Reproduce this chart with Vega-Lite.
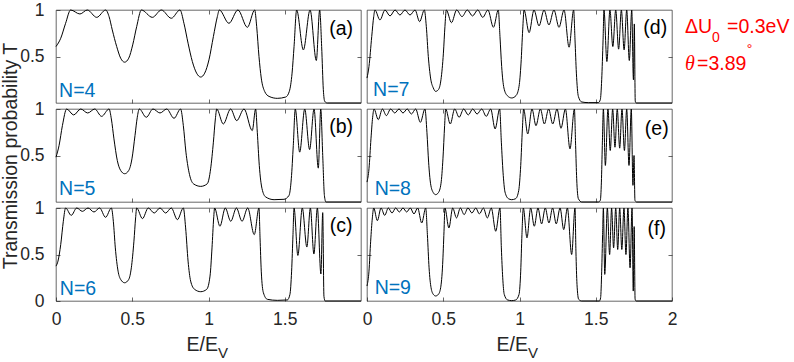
{
  "$schema": "https://vega.github.io/schema/vega-lite/v6.json",
  "background": "white",
  "padding": {"left": 0, "top": 0, "right": 2, "bottom": 0},
  "data": {"values": [
    {"p":"a","E":0,"T":0.607},{"p":"a","E":0.031,"T":0.696},{"p":"a","E":0.063,"T":0.857},{"p":"a","E":0.096,"T":1},{"p":"a","E":0.157,"T":0.957},{"p":"a","E":0.205,"T":1},{"p":"a","E":0.267,"T":0.921},{"p":"a","E":0.326,"T":1},{"p":"a","E":0.348,"T":0.929},{"p":"a","E":0.369,"T":0.786},{"p":"a","E":0.398,"T":0.607},{"p":"a","E":0.424,"T":0.482},{"p":"a","E":0.45,"T":0.439},{"p":"a","E":0.477,"T":0.482},{"p":"a","E":0.503,"T":0.625},{"p":"a","E":0.529,"T":0.821},{"p":"a","E":0.56,"T":1},{"p":"a","E":0.632,"T":0.921},{"p":"a","E":0.691,"T":1},{"p":"a","E":0.756,"T":0.911},{"p":"a","E":0.813,"T":1},{"p":"a","E":0.839,"T":0.857},{"p":"a","E":0.866,"T":0.643},{"p":"a","E":0.894,"T":0.446},{"p":"a","E":0.922,"T":0.321},{"p":"a","E":0.949,"T":0.279},{"p":"a","E":0.975,"T":0.321},{"p":"a","E":1.003,"T":0.464},{"p":"a","E":1.032,"T":0.714},{"p":"a","E":1.058,"T":0.929},{"p":"a","E":1.071,"T":1},{"p":"a","E":1.134,"T":0.857},{"p":"a","E":1.193,"T":1},{"p":"a","E":1.255,"T":0.814},{"p":"a","E":1.303,"T":1},{"p":"a","E":1.316,"T":0.821},{"p":"a","E":1.331,"T":0.5},{"p":"a","E":1.346,"T":0.268},{"p":"a","E":1.368,"T":0.125},{"p":"a","E":1.397,"T":0.071},{"p":"a","E":1.451,"T":0.05},{"p":"a","E":1.506,"T":0.064},{"p":"a","E":1.53,"T":0.125},{"p":"a","E":1.548,"T":0.321},{"p":"a","E":1.561,"T":0.607},{"p":"a","E":1.578,"T":1},{"p":"a","E":1.622,"T":0.571},{"p":"a","E":1.666,"T":1},{"p":"a","E":1.707,"T":0.457},{"p":"a","E":1.729,"T":1},{"p":"a","E":1.742,"T":0.607},{"p":"a","E":1.753,"T":0.143},{"p":"a","E":1.762,"T":0.018},{"p":"a","E":1.779,"T":0},{"p":"a","E":2,"T":0},
    {"p":"b","E":0,"T":0.482},{"p":"b","E":0.02,"T":0.607},{"p":"b","E":0.042,"T":0.821},{"p":"b","E":0.07,"T":1},{"p":"b","E":0.116,"T":0.936},{"p":"b","E":0.162,"T":1},{"p":"b","E":0.208,"T":0.957},{"p":"b","E":0.254,"T":1},{"p":"b","E":0.299,"T":0.921},{"p":"b","E":0.348,"T":1},{"p":"b","E":0.363,"T":0.893},{"p":"b","E":0.38,"T":0.679},{"p":"b","E":0.402,"T":0.446},{"p":"b","E":0.424,"T":0.339},{"p":"b","E":0.45,"T":0.304},{"p":"b","E":0.477,"T":0.339},{"p":"b","E":0.498,"T":0.464},{"p":"b","E":0.518,"T":0.714},{"p":"b","E":0.533,"T":0.911},{"p":"b","E":0.546,"T":1},{"p":"b","E":0.592,"T":0.911},{"p":"b","E":0.636,"T":1},{"p":"b","E":0.682,"T":0.957},{"p":"b","E":0.726,"T":1},{"p":"b","E":0.774,"T":0.9},{"p":"b","E":0.817,"T":1},{"p":"b","E":0.835,"T":0.821},{"p":"b","E":0.852,"T":0.536},{"p":"b","E":0.872,"T":0.321},{"p":"b","E":0.901,"T":0.196},{"p":"b","E":0.949,"T":0.168},{"p":"b","E":0.992,"T":0.196},{"p":"b","E":1.014,"T":0.357},{"p":"b","E":1.032,"T":0.643},{"p":"b","E":1.045,"T":0.893},{"p":"b","E":1.054,"T":1},{"p":"b","E":1.097,"T":0.839},{"p":"b","E":1.145,"T":1},{"p":"b","E":1.185,"T":0.875},{"p":"b","E":1.233,"T":1},{"p":"b","E":1.287,"T":0.768},{"p":"b","E":1.309,"T":1},{"p":"b","E":1.32,"T":0.75},{"p":"b","E":1.333,"T":0.393},{"p":"b","E":1.351,"T":0.143},{"p":"b","E":1.375,"T":0.054},{"p":"b","E":1.43,"T":0.025},{"p":"b","E":1.495,"T":0.029},{"p":"b","E":1.528,"T":0.071},{"p":"b","E":1.543,"T":0.25},{"p":"b","E":1.556,"T":0.607},{"p":"b","E":1.569,"T":1},{"p":"b","E":1.598,"T":0.536},{"p":"b","E":1.631,"T":1},{"p":"b","E":1.663,"T":0.564},{"p":"b","E":1.692,"T":1},{"p":"b","E":1.72,"T":0.364},{"p":"b","E":1.736,"T":1},{"p":"b","E":1.749,"T":0.5},{"p":"b","E":1.76,"T":0.071},{"p":"b","E":1.77,"T":0},{"p":"b","E":2,"T":0},
    {"p":"c","E":0,"T":0.375},{"p":"c","E":0.013,"T":0.429},{"p":"c","E":0.031,"T":0.607},{"p":"c","E":0.048,"T":0.857},{"p":"c","E":0.063,"T":1},{"p":"c","E":0.1,"T":0.921},{"p":"c","E":0.136,"T":1},{"p":"c","E":0.173,"T":0.964},{"p":"c","E":0.21,"T":1},{"p":"c","E":0.249,"T":0.957},{"p":"c","E":0.286,"T":1},{"p":"c","E":0.325,"T":0.9},{"p":"c","E":0.363,"T":1},{"p":"c","E":0.376,"T":0.857},{"p":"c","E":0.389,"T":0.571},{"p":"c","E":0.407,"T":0.321},{"p":"c","E":0.424,"T":0.232},{"p":"c","E":0.45,"T":0.196},{"p":"c","E":0.477,"T":0.232},{"p":"c","E":0.494,"T":0.357},{"p":"c","E":0.511,"T":0.643},{"p":"c","E":0.522,"T":0.893},{"p":"c","E":0.529,"T":1},{"p":"c","E":0.567,"T":0.886},{"p":"c","E":0.605,"T":1},{"p":"c","E":0.644,"T":0.946},{"p":"c","E":0.682,"T":1},{"p":"c","E":0.719,"T":0.946},{"p":"c","E":0.756,"T":1},{"p":"c","E":0.796,"T":0.875},{"p":"c","E":0.835,"T":1},{"p":"c","E":0.85,"T":0.786},{"p":"c","E":0.866,"T":0.429},{"p":"c","E":0.883,"T":0.214},{"p":"c","E":0.909,"T":0.125},{"p":"c","E":0.949,"T":0.1},{"p":"c","E":0.988,"T":0.125},{"p":"c","E":1.01,"T":0.268},{"p":"c","E":1.023,"T":0.571},{"p":"c","E":1.034,"T":0.893},{"p":"c","E":1.04,"T":1},{"p":"c","E":1.075,"T":0.804},{"p":"c","E":1.11,"T":1},{"p":"c","E":1.146,"T":0.857},{"p":"c","E":1.183,"T":1},{"p":"c","E":1.22,"T":0.857},{"p":"c","E":1.257,"T":1},{"p":"c","E":1.3,"T":0.714},{"p":"c","E":1.331,"T":1},{"p":"c","E":1.338,"T":0.679},{"p":"c","E":1.346,"T":0.321},{"p":"c","E":1.36,"T":0.089},{"p":"c","E":1.386,"T":0.018},{"p":"c","E":1.451,"T":0.007},{"p":"c","E":1.517,"T":0.011},{"p":"c","E":1.534,"T":0.071},{"p":"c","E":1.545,"T":0.321},{"p":"c","E":1.554,"T":0.714},{"p":"c","E":1.561,"T":1},{"p":"c","E":1.586,"T":0.49},{"p":"c","E":1.615,"T":1},{"p":"c","E":1.645,"T":0.58},{"p":"c","E":1.668,"T":1},{"p":"c","E":1.691,"T":0.505},{"p":"c","E":1.714,"T":1},{"p":"c","E":1.737,"T":0.29},{"p":"c","E":1.749,"T":0.95},{"p":"c","E":1.757,"T":0.05},{"p":"c","E":1.765,"T":0},{"p":"c","E":2,"T":0},
    {"p":"d","E":0,"T":0.268},{"p":"d","E":0.013,"T":0.393},{"p":"d","E":0.031,"T":0.714},{"p":"d","E":0.044,"T":0.929},{"p":"d","E":0.052,"T":1},{"p":"d","E":0.085,"T":0.893},{"p":"d","E":0.118,"T":1},{"p":"d","E":0.151,"T":0.936},{"p":"d","E":0.184,"T":1},{"p":"d","E":0.216,"T":0.946},{"p":"d","E":0.249,"T":1},{"p":"d","E":0.282,"T":0.946},{"p":"d","E":0.315,"T":1},{"p":"d","E":0.345,"T":0.875},{"p":"d","E":0.376,"T":1},{"p":"d","E":0.389,"T":0.821},{"p":"d","E":0.402,"T":0.5},{"p":"d","E":0.417,"T":0.268},{"p":"d","E":0.435,"T":0.161},{"p":"d","E":0.45,"T":0.125},{"p":"d","E":0.468,"T":0.143},{"p":"d","E":0.485,"T":0.25},{"p":"d","E":0.501,"T":0.536},{"p":"d","E":0.511,"T":0.821},{"p":"d","E":0.52,"T":1},{"p":"d","E":0.554,"T":0.864},{"p":"d","E":0.588,"T":1},{"p":"d","E":0.623,"T":0.929},{"p":"d","E":0.658,"T":1},{"p":"d","E":0.692,"T":0.936},{"p":"d","E":0.726,"T":1},{"p":"d","E":0.759,"T":0.921},{"p":"d","E":0.793,"T":1},{"p":"d","E":0.829,"T":0.814},{"p":"d","E":0.861,"T":1},{"p":"d","E":0.872,"T":0.714},{"p":"d","E":0.883,"T":0.393},{"p":"d","E":0.898,"T":0.161},{"p":"d","E":0.92,"T":0.079},{"p":"d","E":0.949,"T":0.054},{"p":"d","E":0.977,"T":0.079},{"p":"d","E":0.997,"T":0.179},{"p":"d","E":1.01,"T":0.429},{"p":"d","E":1.021,"T":0.786},{"p":"d","E":1.03,"T":1},{"p":"d","E":1.063,"T":0.757},{"p":"d","E":1.095,"T":1},{"p":"d","E":1.128,"T":0.829},{"p":"d","E":1.161,"T":1},{"p":"d","E":1.193,"T":0.839},{"p":"d","E":1.226,"T":1},{"p":"d","E":1.259,"T":0.814},{"p":"d","E":1.292,"T":1},{"p":"d","E":1.325,"T":0.6},{"p":"d","E":1.355,"T":1},{"p":"d","E":1.364,"T":0.679},{"p":"d","E":1.373,"T":0.321},{"p":"d","E":1.386,"T":0.071},{"p":"d","E":1.408,"T":0.011},{"p":"d","E":1.451,"T":0.004},{"p":"d","E":1.517,"T":0.004},{"p":"d","E":1.53,"T":0.036},{"p":"d","E":1.539,"T":0.25},{"p":"d","E":1.548,"T":0.679},{"p":"d","E":1.554,"T":1},{"p":"d","E":1.573,"T":0.446},{"p":"d","E":1.593,"T":1},{"p":"d","E":1.612,"T":0.607},{"p":"d","E":1.631,"T":1},{"p":"d","E":1.65,"T":0.579},{"p":"d","E":1.668,"T":1},{"p":"d","E":1.686,"T":0.571},{"p":"d","E":1.703,"T":1},{"p":"d","E":1.72,"T":0.457},{"p":"d","E":1.736,"T":1},{"p":"d","E":1.747,"T":0.25},{"p":"d","E":1.753,"T":0.85},{"p":"d","E":1.759,"T":0.02},{"p":"d","E":1.766,"T":0},{"p":"d","E":2,"T":0},
    {"p":"e","E":0,"T":0.214},{"p":"e","E":0.013,"T":0.357},{"p":"e","E":0.026,"T":0.679},{"p":"e","E":0.037,"T":0.911},{"p":"e","E":0.046,"T":1},{"p":"e","E":0.074,"T":0.886},{"p":"e","E":0.101,"T":1},{"p":"e","E":0.127,"T":0.929},{"p":"e","E":0.155,"T":1},{"p":"e","E":0.182,"T":0.957},{"p":"e","E":0.21,"T":1},{"p":"e","E":0.236,"T":0.957},{"p":"e","E":0.264,"T":1},{"p":"e","E":0.291,"T":0.946},{"p":"e","E":0.319,"T":1},{"p":"e","E":0.35,"T":0.857},{"p":"e","E":0.38,"T":1},{"p":"e","E":0.393,"T":0.75},{"p":"e","E":0.404,"T":0.429},{"p":"e","E":0.417,"T":0.196},{"p":"e","E":0.435,"T":0.1},{"p":"e","E":0.45,"T":0.079},{"p":"e","E":0.468,"T":0.1},{"p":"e","E":0.485,"T":0.196},{"p":"e","E":0.498,"T":0.464},{"p":"e","E":0.509,"T":0.821},{"p":"e","E":0.516,"T":1},{"p":"e","E":0.546,"T":0.839},{"p":"e","E":0.575,"T":1},{"p":"e","E":0.604,"T":0.911},{"p":"e","E":0.634,"T":1},{"p":"e","E":0.664,"T":0.936},{"p":"e","E":0.693,"T":1},{"p":"e","E":0.722,"T":0.946},{"p":"e","E":0.752,"T":1},{"p":"e","E":0.782,"T":0.921},{"p":"e","E":0.811,"T":1},{"p":"e","E":0.84,"T":0.786},{"p":"e","E":0.87,"T":1},{"p":"e","E":0.881,"T":0.643},{"p":"e","E":0.892,"T":0.321},{"p":"e","E":0.905,"T":0.107},{"p":"e","E":0.927,"T":0.036},{"p":"e","E":0.949,"T":0.025},{"p":"e","E":0.975,"T":0.036},{"p":"e","E":0.995,"T":0.125},{"p":"e","E":1.008,"T":0.393},{"p":"e","E":1.019,"T":0.786},{"p":"e","E":1.027,"T":1},{"p":"e","E":1.054,"T":0.732},{"p":"e","E":1.082,"T":1},{"p":"e","E":1.108,"T":0.821},{"p":"e","E":1.137,"T":1},{"p":"e","E":1.163,"T":0.839},{"p":"e","E":1.191,"T":1},{"p":"e","E":1.218,"T":0.839},{"p":"e","E":1.246,"T":1},{"p":"e","E":1.272,"T":0.793},{"p":"e","E":1.301,"T":1},{"p":"e","E":1.331,"T":0.571},{"p":"e","E":1.36,"T":1},{"p":"e","E":1.368,"T":0.607},{"p":"e","E":1.375,"T":0.25},{"p":"e","E":1.386,"T":0.036},{"p":"e","E":1.408,"T":0},{"p":"e","E":1.517,"T":0},{"p":"e","E":1.53,"T":0.018},{"p":"e","E":1.537,"T":0.214},{"p":"e","E":1.543,"T":0.607},{"p":"e","E":1.55,"T":1},{"p":"e","E":1.563,"T":0.393},{"p":"e","E":1.58,"T":1},{"p":"e","E":1.595,"T":0.554},{"p":"e","E":1.611,"T":1},{"p":"e","E":1.626,"T":0.589},{"p":"e","E":1.641,"T":1},{"p":"e","E":1.657,"T":0.579},{"p":"e","E":1.672,"T":1},{"p":"e","E":1.688,"T":0.554},{"p":"e","E":1.703,"T":1},{"p":"e","E":1.718,"T":0.393},{"p":"e","E":1.733,"T":1},{"p":"e","E":1.744,"T":0.179},{"p":"e","E":1.751,"T":0.5},{"p":"e","E":1.757,"T":0.018},{"p":"e","E":1.768,"T":0},{"p":"e","E":2,"T":0},
    {"p":"f","E":0,"T":0.161},{"p":"f","E":0.013,"T":0.321},{"p":"f","E":0.024,"T":0.643},{"p":"f","E":0.035,"T":0.893},{"p":"f","E":0.044,"T":1},{"p":"f","E":0.068,"T":0.864},{"p":"f","E":0.092,"T":1},{"p":"f","E":0.116,"T":0.921},{"p":"f","E":0.14,"T":1},{"p":"f","E":0.164,"T":0.946},{"p":"f","E":0.188,"T":1},{"p":"f","E":0.212,"T":0.957},{"p":"f","E":0.236,"T":1},{"p":"f","E":0.26,"T":0.957},{"p":"f","E":0.284,"T":1},{"p":"f","E":0.308,"T":0.936},{"p":"f","E":0.332,"T":1},{"p":"f","E":0.359,"T":0.839},{"p":"f","E":0.385,"T":1},{"p":"f","E":0.396,"T":0.714},{"p":"f","E":0.407,"T":0.357},{"p":"f","E":0.42,"T":0.143},{"p":"f","E":0.435,"T":0.071},{"p":"f","E":0.45,"T":0.054},{"p":"f","E":0.468,"T":0.071},{"p":"f","E":0.483,"T":0.143},{"p":"f","E":0.496,"T":0.393},{"p":"f","E":0.505,"T":0.75},{"p":"f","E":0.511,"T":1},{"p":"f","E":0.537,"T":0.786},{"p":"f","E":0.562,"T":1},{"p":"f","E":0.587,"T":0.893},{"p":"f","E":0.612,"T":1},{"p":"f","E":0.637,"T":0.929},{"p":"f","E":0.662,"T":1},{"p":"f","E":0.688,"T":0.946},{"p":"f","E":0.713,"T":1},{"p":"f","E":0.737,"T":0.936},{"p":"f","E":0.763,"T":1},{"p":"f","E":0.789,"T":0.893},{"p":"f","E":0.815,"T":1},{"p":"f","E":0.844,"T":0.75},{"p":"f","E":0.872,"T":1},{"p":"f","E":0.881,"T":0.571},{"p":"f","E":0.89,"T":0.25},{"p":"f","E":0.9,"T":0.071},{"p":"f","E":0.922,"T":0.011},{"p":"f","E":0.949,"T":0.004},{"p":"f","E":0.975,"T":0.011},{"p":"f","E":0.997,"T":0.071},{"p":"f","E":1.008,"T":0.321},{"p":"f","E":1.016,"T":0.714},{"p":"f","E":1.025,"T":1},{"p":"f","E":1.049,"T":0.679},{"p":"f","E":1.073,"T":1},{"p":"f","E":1.097,"T":0.804},{"p":"f","E":1.121,"T":1},{"p":"f","E":1.145,"T":0.829},{"p":"f","E":1.169,"T":1},{"p":"f","E":1.193,"T":0.839},{"p":"f","E":1.217,"T":1},{"p":"f","E":1.241,"T":0.829},{"p":"f","E":1.266,"T":1},{"p":"f","E":1.29,"T":0.768},{"p":"f","E":1.314,"T":1},{"p":"f","E":1.342,"T":0.5},{"p":"f","E":1.364,"T":1},{"p":"f","E":1.37,"T":0.536},{"p":"f","E":1.377,"T":0.179},{"p":"f","E":1.388,"T":0.018},{"p":"f","E":1.408,"T":0},{"p":"f","E":1.524,"T":0},{"p":"f","E":1.532,"T":0.036},{"p":"f","E":1.539,"T":0.321},{"p":"f","E":1.545,"T":0.714},{"p":"f","E":1.55,"T":1},{"p":"f","E":1.559,"T":0.286},{"p":"f","E":1.576,"T":1},{"p":"f","E":1.591,"T":0.5},{"p":"f","E":1.604,"T":1},{"p":"f","E":1.617,"T":0.571},{"p":"f","E":1.631,"T":1},{"p":"f","E":1.644,"T":0.554},{"p":"f","E":1.657,"T":1},{"p":"f","E":1.671,"T":0.554},{"p":"f","E":1.685,"T":1},{"p":"f","E":1.698,"T":0.5},{"p":"f","E":1.711,"T":1},{"p":"f","E":1.725,"T":0.357},{"p":"f","E":1.738,"T":1},{"p":"f","E":1.746,"T":0.107},{"p":"f","E":1.752,"T":0.8},{"p":"f","E":1.758,"T":0.02},{"p":"f","E":1.765,"T":0},{"p":"f","E":2,"T":0}
  ]},
  "columns": 2,
  "spacing": {"row": 6, "column": 6},
  "bounds": "flush",
  "concat": [
    {
      "width": 305, "height": 93,
      "layer": [
        {"transform": [{"filter": "datum.p === 'a'"}], "mark": {"type": "line", "color": "#000000", "strokeWidth": 1, "interpolate": "monotone"},
         "encoding": {"x": {"field": "E", "type": "quantitative", "scale": {"domain": [0, 2]}, "axis": {"labels": false, "title": null, "values": [0.5, 1, 1.5]}},
                      "y": {"field": "T", "type": "quantitative", "scale": {"domain": [0, 1]}, "axis": {"title": null, "values": [0.5, 1]}}}},
        {"transform": [{"filter": "datum.p === 'a'"}], "mark": {"type": "line", "opacity": 0},
         "encoding": {"x": {"field": "E", "type": "quantitative", "axis": {"orient": "top", "labels": false, "title": null, "values": [0.5, 1, 1.5]}},
                      "y": {"field": "T", "type": "quantitative", "axis": {"orient": "right", "labels": false, "title": null, "values": [0.5]}}}},
        {"data": {"values": [{}]}, "mark": {"type": "text", "fontSize": 19.5, "color": "#000000", "align": "center", "baseline": "middle"},
         "encoding": {"x": {"datum": 1.87, "axis": null}, "y": {"datum": 0.8, "axis": null}, "text": {"value": "(a)"}}},
        {"data": {"values": [{}]}, "mark": {"type": "text", "fontSize": 19.5, "color": "#0072BD", "align": "left", "baseline": "middle"},
         "encoding": {"x": {"datum": 0.02, "axis": null}, "y": {"datum": 0.125, "axis": null}, "text": {"value": "N=4"}}}
      ],
      "resolve": {"axis": {"x": "independent", "y": "independent"}}
    },
    {
      "width": 305, "height": 93,
      "layer": [
        {"transform": [{"filter": "datum.p === 'd'"}], "mark": {"type": "line", "color": "#000000", "strokeWidth": 1, "interpolate": "monotone"},
         "encoding": {"x": {"field": "E", "type": "quantitative", "scale": {"domain": [0, 2]}, "axis": {"labels": false, "title": null, "values": [0.5, 1, 1.5]}},
                      "y": {"field": "T", "type": "quantitative", "scale": {"domain": [0, 1]}, "axis": {"labels": false, "title": null, "values": [0.5]}}}},
        {"transform": [{"filter": "datum.p === 'd'"}], "mark": {"type": "line", "opacity": 0},
         "encoding": {"x": {"field": "E", "type": "quantitative", "axis": {"orient": "top", "labels": false, "title": null, "values": [0.5, 1, 1.5]}},
                      "y": {"field": "T", "type": "quantitative", "axis": {"orient": "right", "labels": false, "title": null, "values": [0.5]}}}},
        {"data": {"values": [{}]}, "mark": {"type": "text", "fontSize": 19.5, "color": "#000000", "align": "center", "baseline": "middle"},
         "encoding": {"x": {"datum": 1.89, "axis": null}, "y": {"datum": 0.81, "axis": null}, "text": {"value": "(d)"}}},
        {"data": {"values": [{}]}, "mark": {"type": "text", "fontSize": 19.5, "color": "#0072BD", "align": "left", "baseline": "middle"},
         "encoding": {"x": {"datum": 0.04, "axis": null}, "y": {"datum": 0.14, "axis": null}, "text": {"value": "N=7"}}},
        {"data": {"values": [{}]}, "mark": {"type": "text", "fontSize": 19.5, "color": "#FF0000", "align": "left", "baseline": "middle"},
         "encoding": {"x": {"datum": 2.085, "axis": null}, "y": {"datum": 0.814, "axis": null}, "text": {"value": "ΔU"}}},
        {"data": {"values": [{}]}, "mark": {"type": "text", "fontSize": 14, "color": "#FF0000", "align": "left", "baseline": "middle"},
         "encoding": {"x": {"datum": 2.262, "axis": null}, "y": {"datum": 0.7, "axis": null}, "text": {"value": "0"}}},
        {"data": {"values": [{}]}, "mark": {"type": "text", "fontSize": 19.5, "color": "#FF0000", "align": "left", "baseline": "middle"},
         "encoding": {"x": {"datum": 2.361, "axis": null}, "y": {"datum": 0.814, "axis": null}, "text": {"value": "=0.3eV"}}},
        {"data": {"values": [{}]}, "mark": {"type": "text", "fontSize": 20, "color": "#FF0000", "align": "left", "baseline": "middle", "font": "Liberation Serif", "fontStyle": "italic"},
         "encoding": {"x": {"datum": 2.085, "axis": null}, "y": {"datum": 0.42, "axis": null}, "text": {"value": "θ"}}},
        {"data": {"values": [{}]}, "mark": {"type": "text", "fontSize": 19.5, "color": "#FF0000", "align": "left", "baseline": "middle"},
         "encoding": {"x": {"datum": 2.164, "axis": null}, "y": {"datum": 0.42, "axis": null}, "text": {"value": "=3.89"}}},
        {"data": {"values": [{}]}, "mark": {"type": "text", "fontSize": 14, "color": "#FF0000", "align": "left", "baseline": "middle"},
         "encoding": {"x": {"datum": 2.49, "axis": null}, "y": {"datum": 0.57, "axis": null}, "text": {"value": "°"}}}
      ],
      "resolve": {"axis": {"x": "independent", "y": "independent"}}
    },
    {
      "width": 305, "height": 93,
      "layer": [
        {"transform": [{"filter": "datum.p === 'b'"}], "mark": {"type": "line", "color": "#000000", "strokeWidth": 1, "interpolate": "monotone"},
         "encoding": {"x": {"field": "E", "type": "quantitative", "scale": {"domain": [0, 2]}, "axis": {"labels": false, "title": null, "values": [0.5, 1, 1.5]}},
                      "y": {"field": "T", "type": "quantitative", "scale": {"domain": [0, 1]}, "axis": {"title": "Transmission probability T", "values": [0.5, 1]}}}},
        {"transform": [{"filter": "datum.p === 'b'"}], "mark": {"type": "line", "opacity": 0},
         "encoding": {"x": {"field": "E", "type": "quantitative", "axis": {"orient": "top", "labels": false, "title": null, "values": [0.5, 1, 1.5]}},
                      "y": {"field": "T", "type": "quantitative", "axis": {"orient": "right", "labels": false, "title": null, "values": [0.5]}}}},
        {"data": {"values": [{}]}, "mark": {"type": "text", "fontSize": 19.5, "color": "#000000", "align": "center", "baseline": "middle"},
         "encoding": {"x": {"datum": 1.87, "axis": null}, "y": {"datum": 0.81, "axis": null}, "text": {"value": "(b)"}}},
        {"data": {"values": [{}]}, "mark": {"type": "text", "fontSize": 19.5, "color": "#0072BD", "align": "left", "baseline": "middle"},
         "encoding": {"x": {"datum": 0.02, "axis": null}, "y": {"datum": 0.14, "axis": null}, "text": {"value": "N=5"}}}
      ],
      "resolve": {"axis": {"x": "independent", "y": "independent"}}
    },
    {
      "width": 305, "height": 93,
      "layer": [
        {"transform": [{"filter": "datum.p === 'e'"}], "mark": {"type": "line", "color": "#000000", "strokeWidth": 1, "interpolate": "monotone"},
         "encoding": {"x": {"field": "E", "type": "quantitative", "scale": {"domain": [0, 2]}, "axis": {"labels": false, "title": null, "values": [0.5, 1, 1.5]}},
                      "y": {"field": "T", "type": "quantitative", "scale": {"domain": [0, 1]}, "axis": {"labels": false, "title": null, "values": [0.5]}}}},
        {"transform": [{"filter": "datum.p === 'e'"}], "mark": {"type": "line", "opacity": 0},
         "encoding": {"x": {"field": "E", "type": "quantitative", "axis": {"orient": "top", "labels": false, "title": null, "values": [0.5, 1, 1.5]}},
                      "y": {"field": "T", "type": "quantitative", "axis": {"orient": "right", "labels": false, "title": null, "values": [0.5]}}}},
        {"data": {"values": [{}]}, "mark": {"type": "text", "fontSize": 19.5, "color": "#000000", "align": "center", "baseline": "middle"},
         "encoding": {"x": {"datum": 1.9, "axis": null}, "y": {"datum": 0.78, "axis": null}, "text": {"value": "(e)"}}},
        {"data": {"values": [{}]}, "mark": {"type": "text", "fontSize": 19.5, "color": "#0072BD", "align": "left", "baseline": "middle"},
         "encoding": {"x": {"datum": 0.05, "axis": null}, "y": {"datum": 0.14, "axis": null}, "text": {"value": "N=8"}}}
      ],
      "resolve": {"axis": {"x": "independent", "y": "independent"}}
    },
    {
      "width": 305, "height": 93,
      "layer": [
        {"transform": [{"filter": "datum.p === 'c'"}], "mark": {"type": "line", "color": "#000000", "strokeWidth": 1, "interpolate": "monotone"},
         "encoding": {"x": {"field": "E", "type": "quantitative", "scale": {"domain": [0, 2]}, "axis": {"title": null, "values": [0, 0.5, 1, 1.5]}},
                      "y": {"field": "T", "type": "quantitative", "scale": {"domain": [0, 1]}, "axis": {"title": null, "values": [0, 0.5, 1]}}}},
        {"transform": [{"filter": "datum.p === 'c'"}], "mark": {"type": "line", "opacity": 0},
         "encoding": {"x": {"field": "E", "type": "quantitative", "axis": {"orient": "top", "labels": false, "title": null, "values": [0.5, 1, 1.5]}},
                      "y": {"field": "T", "type": "quantitative", "axis": {"orient": "right", "labels": false, "title": null, "values": [0.5]}}}},
        {"data": {"values": [{}]}, "mark": {"type": "text", "fontSize": 19.5, "color": "#000000", "align": "center", "baseline": "middle"},
         "encoding": {"x": {"datum": 1.87, "axis": null}, "y": {"datum": 0.81, "axis": null}, "text": {"value": "(c)"}}},
        {"data": {"values": [{}]}, "mark": {"type": "text", "fontSize": 19.5, "color": "#0072BD", "align": "left", "baseline": "middle"},
         "encoding": {"x": {"datum": 0.025, "axis": null}, "y": {"datum": 0.125, "axis": null}, "text": {"value": "N=6"}}},
        {"data": {"values": [{}]}, "mark": {"type": "text", "fontSize": 19.5, "color": "#262626", "align": "right", "baseline": "middle"},
         "encoding": {"x": {"datum": 1.062, "axis": null}, "y": {"datum": -0.47, "axis": null}, "text": {"value": "E/E"}}},
        {"data": {"values": [{}]}, "mark": {"type": "text", "fontSize": 15, "color": "#262626", "align": "left", "baseline": "middle"},
         "encoding": {"x": {"datum": 1.062, "axis": null}, "y": {"datum": -0.56, "axis": null}, "text": {"value": "V"}}}
      ],
      "resolve": {"axis": {"x": "independent", "y": "independent"}}
    },
    {
      "width": 305, "height": 93,
      "layer": [
        {"transform": [{"filter": "datum.p === 'f'"}], "mark": {"type": "line", "color": "#000000", "strokeWidth": 1, "interpolate": "monotone"},
         "encoding": {"x": {"field": "E", "type": "quantitative", "scale": {"domain": [0, 2]}, "axis": {"title": null, "values": [0, 0.5, 1, 1.5, 2]}},
                      "y": {"field": "T", "type": "quantitative", "scale": {"domain": [0, 1]}, "axis": {"labels": false, "title": null, "values": [0.5]}}}},
        {"transform": [{"filter": "datum.p === 'f'"}], "mark": {"type": "line", "opacity": 0},
         "encoding": {"x": {"field": "E", "type": "quantitative", "axis": {"orient": "top", "labels": false, "title": null, "values": [0.5, 1, 1.5]}},
                      "y": {"field": "T", "type": "quantitative", "axis": {"orient": "right", "labels": false, "title": null, "values": [0.5]}}}},
        {"data": {"values": [{}]}, "mark": {"type": "text", "fontSize": 19.5, "color": "#000000", "align": "center", "baseline": "middle"},
         "encoding": {"x": {"datum": 1.9, "axis": null}, "y": {"datum": 0.77, "axis": null}, "text": {"value": "(f)"}}},
        {"data": {"values": [{}]}, "mark": {"type": "text", "fontSize": 19.5, "color": "#0072BD", "align": "left", "baseline": "middle"},
         "encoding": {"x": {"datum": 0.05, "axis": null}, "y": {"datum": 0.14, "axis": null}, "text": {"value": "N=9"}}},
        {"data": {"values": [{}]}, "mark": {"type": "text", "fontSize": 19.5, "color": "#262626", "align": "right", "baseline": "middle"},
         "encoding": {"x": {"datum": 1.056, "axis": null}, "y": {"datum": -0.47, "axis": null}, "text": {"value": "E/E"}}},
        {"data": {"values": [{}]}, "mark": {"type": "text", "fontSize": 15, "color": "#262626", "align": "left", "baseline": "middle"},
         "encoding": {"x": {"datum": 1.056, "axis": null}, "y": {"datum": -0.56, "axis": null}, "text": {"value": "V"}}}
      ],
      "resolve": {"axis": {"x": "independent", "y": "independent"}}
    }
  ],
  "config": {
    "view": {"stroke": "#262626", "strokeWidth": 0.7},
    "text": {"font": "Liberation Sans"},
    "axis": {"domain": false, "grid": false, "ticks": true, "tickSize": -4, "tickColor": "#262626", "tickWidth": 0.7, "format": "~g",
             "labelFont": "Liberation Sans", "labelFontSize": 17.5, "labelColor": "#262626", "labelFlush": false,
             "titleFont": "Liberation Sans", "titleFontSize": 19.5, "titleFontWeight": "normal", "titleColor": "#262626", "titlePadding": -1},
    "axisX": {"labelPadding": 13},
    "axisY": {"labelPadding": 16}
  }
}
